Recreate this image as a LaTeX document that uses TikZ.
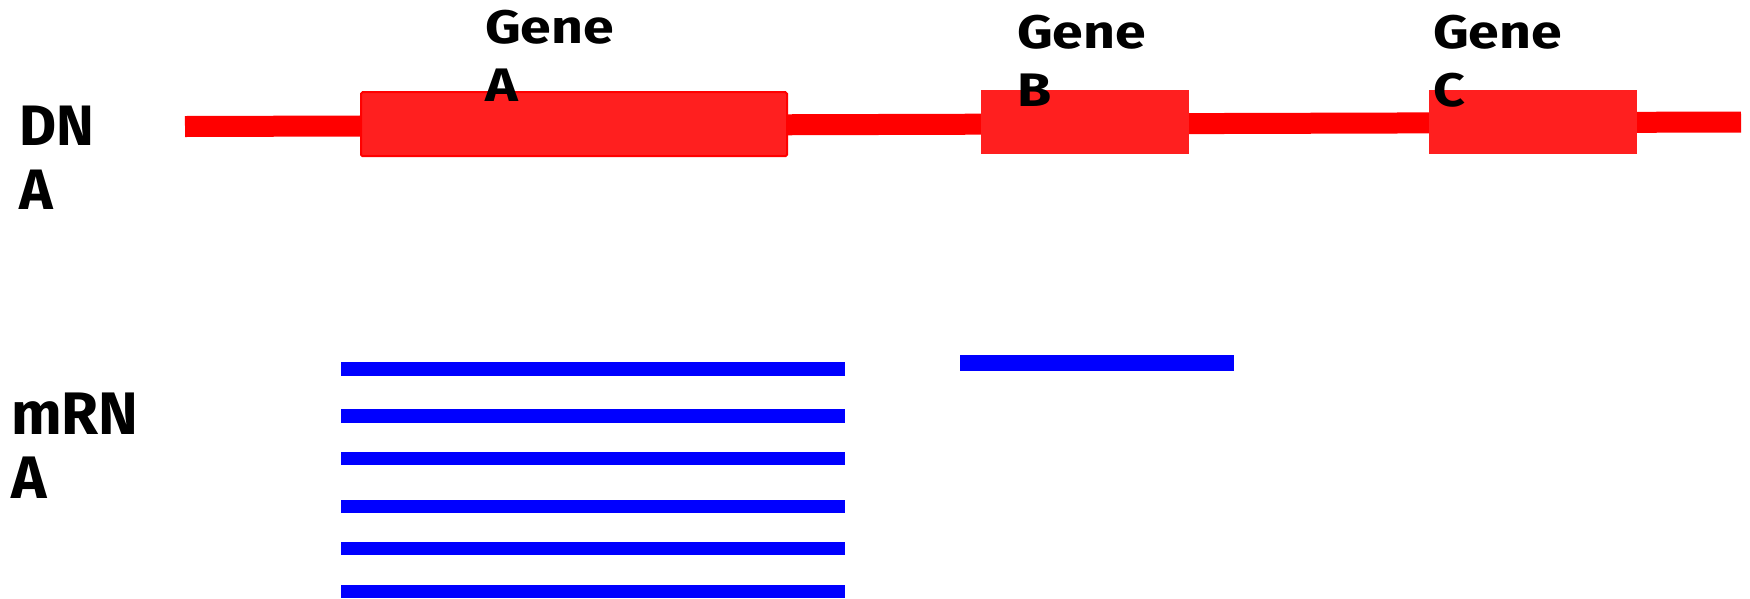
\documentclass[tikz,border=0pt]{standalone}
\usepackage{fontspec}
\setmainfont{Fira Sans}
\newfontfamily\genefont{Fira Sans}[FakeStretch=1.18]
\definecolor{boxred}{HTML}{FF1F1F}
\definecolor{dnared}{HTML}{FF0000}
\definecolor{rnablue}{HTML}{0000FF}
\begin{document}
\begin{tikzpicture}[x=1pt,y=-1pt,
  dna/.style={draw=dnared, line width=21pt},
  genebox/.style={rectangle, fill=boxred, inner sep=0pt, minimum width=#1, minimum height=64pt},
  framedbox/.style={genebox=#1, draw=dnared, line width=2pt, rounded corners=1.5pt},
  genelbl/.style={anchor=north west, inner sep=0pt, align=left, font=\genefont\bfseries\fontsize{47}{58}\selectfont},
  rowlbl/.style={anchor=north west, inner sep=0pt, align=left, font=\bfseries\fontsize{#1}{64}\selectfont},
  rna/.style={fill=rnablue}]
\useasboundingbox (0,0) rectangle (1750,598);
\fill[white] (0,0) rectangle (1750,598);
% DNA backbone
\coordinate (dnastart) at (185,126.5);
\coordinate (dnaend) at (1741,122);
\draw[dna] (dnastart) -- (dnaend);
% genes
\node[framedbox=426pt] (ga) at (574,124.2) {};
\node[genebox=208pt] (gb) at (1085,122) {};
\node[genebox=208pt] (gc) at (1533,122) {};
% labels
\node[genelbl] (la) at (485,10) {Gene\\A};
\node[genelbl] (lb) at (1017,15) {Gene\\B};
\node[genelbl] (lc) at (1433,15) {Gene\\C};
\node[rowlbl=57] (ldna) at (19,106) {DN\\A};
\node[rowlbl=60] (lrna) at (11,393) {mRN\\A};
% mRNA transcripts
\fill[rna] (341,362) rectangle (845,376);
\fill[rna] (341,409) rectangle (845,423);
\fill[rna] (341,452) rectangle (845,465);
\fill[rna] (341,500) rectangle (845,513);
\fill[rna] (341,542) rectangle (845,555);
\fill[rna] (341,585) rectangle (845,598);
\fill[rna] (960,355) rectangle (1234,371);
\end{tikzpicture}
\end{document}
